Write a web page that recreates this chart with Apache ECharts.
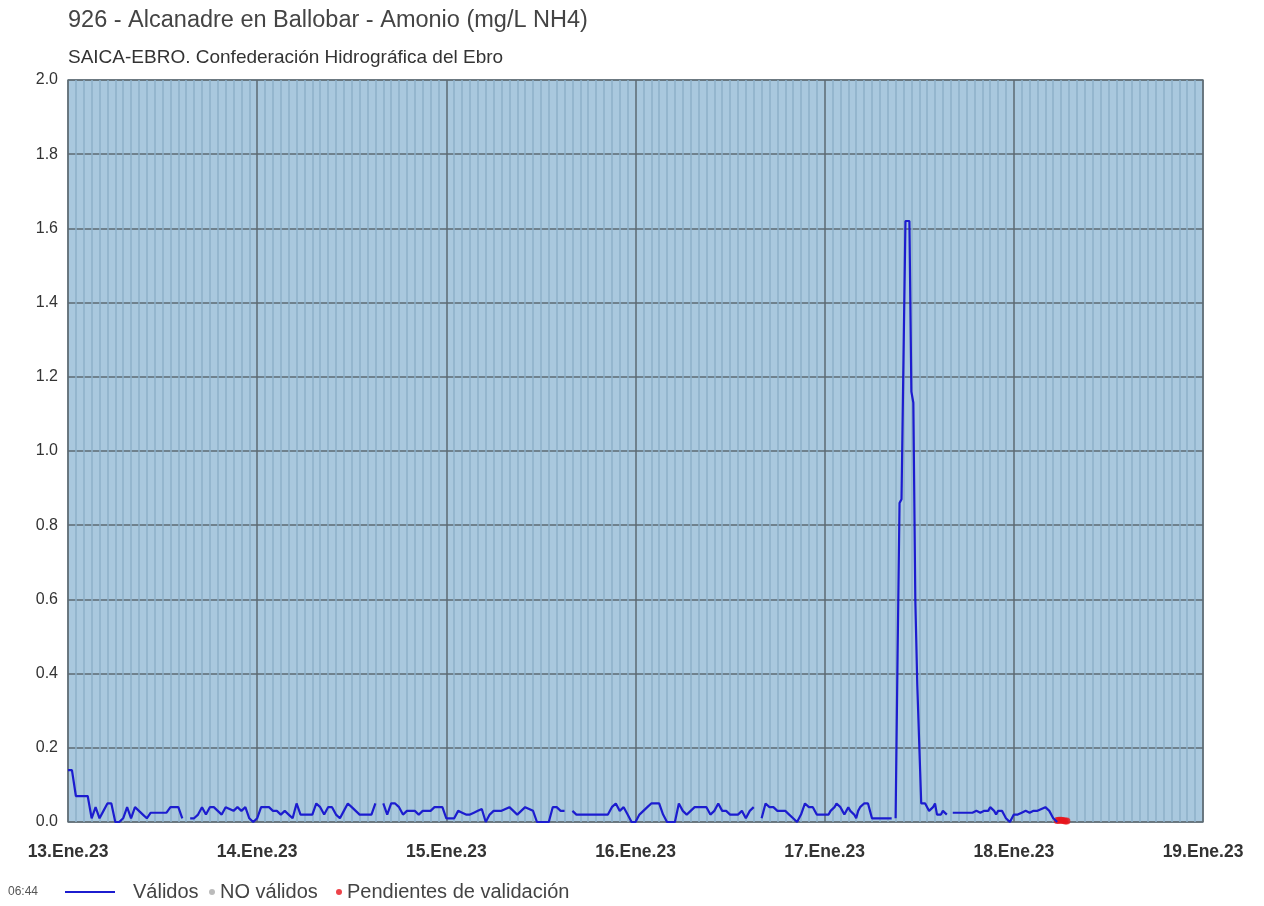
<!DOCTYPE html>
<html>
<head>
<meta charset="utf-8">
<script src="https://cdn.jsdelivr.net/npm/echarts@6/dist/echarts.min.js"></script>
<style>
html,body{margin:0;padding:0;background:#fff;}
#chart{width:1264px;height:906px;}
</style>
</head>
<body>
<div id="chart"></div>
<script>
// ---- DATA ----
const titleText = '926 - Alcanadre en Ballobar - Amonio (mg/L NH4)';
const subtitleText = 'SAICA-EBRO. Confederación Hidrográfica del Ebro';
const lastUpdate = '06:44';
const dayLabels = ['13.Ene.23','14.Ene.23','15.Ene.23','16.Ene.23','17.Ene.23','18.Ene.23','19.Ene.23'];
const yTicks = [0,0.2,0.4,0.6,0.8,1.0,1.2,1.4,1.6,1.8,2.0];

// Válidos, 13 Jan, every 30 min
const valid13 = [0.14,0.14,0.07,0.07,0.07,0.07,0.01,0.04,0.01,0.03,
  0.05,0.05,0.0,0.0,0.01,0.04,0.01,0.04,0.03,0.02,
  0.01,0.025,0.025,0.025,0.025,0.025,0.04,0.04,0.04,0.01,
  null,0.01,0.01,0.02,0.04,0.02,0.04,0.04,0.03,0.02,
  0.04,0.035,0.03,0.04,0.03,0.04,0.01,0.0];
// 14 Jan, every 30 min
const valid14 = [0.01,0.04,0.04,0.04,0.03,0.03,0.02,0.03,0.02,0.01,
  0.05,0.02,0.02,0.02,0.02,0.05,0.04,0.02,0.04,0.04,
  0.02,0.01,0.03,0.05,0.04,0.03,0.02,0.02,0.02,0.02,
  0.05,null,0.05,0.02,0.05,0.05,0.04,0.02,0.03,0.03,
  0.03,0.02,0.03,0.03,0.03,0.04,0.04,0.04];
// 15 Jan, every 30 min
const valid15 = [0.01,0.01,0.01,0.03,0.025,0.02,0.02,0.025,0.03,0.035,
  0.0,0.02,0.03,0.03,0.03,0.035,0.04,0.03,0.02,0.03,
  0.04,0.035,0.03,0.0,0.0,0.0,0.0,0.04,0.04,0.03,
  0.03,null,0.03,0.02,0.02,0.02,0.02,0.02,0.02,0.02,
  0.02,0.02,0.04,0.05,0.03,0.04,0.02,0.0];
// 16 Jan, every 30 min
const valid16 = [0.0,0.02,0.03,0.04,0.05,0.05,0.05,0.02,0.0,0.0,
  0.0,0.05,0.03,0.02,0.03,0.04,0.04,0.04,0.04,0.02,
  0.03,0.05,0.03,0.03,0.02,0.02,0.02,0.03,0.01,0.03,
  0.04,null,0.01,0.05,0.04,0.04,0.03,0.03,0.03,0.02,
  0.01,0.0,0.02,0.05,0.04,0.04,0.02,0.02];
// 17 Jan, every 15 min
const valid17 = [0.02,0.02,0.02,0.03,0.03,0.04,0.05,0.05,0.04,0.03,
  0.02,0.03,0.04,0.03,0.03,0.02,0.01,0.03,0.04,0.045,
  0.05,0.05,0.05,0.03,0.01,0.01,0.01,0.01,0.01,0.01,
  0.01,0.01,0.01,0.01,0.01,null,0.01,0.45,0.86,0.87,
  1.25,1.62,1.62,1.62,1.16,1.13,0.6,0.37,0.37,0.05,
  0.05,0.05,0.04,0.03,0.03,0.04,0.05,0.02,0.02,0.02,
  0.03,0.03,0.02,null,null,0.025,0.025,0.025,0.025,0.025,
  0.025,0.025,0.025,0.025,0.025,0.025,0.03,0.03,0.03,0.025,
  0.025,0.03,0.03,0.03,0.04,0.045,0.03,0.02,0.03,0.035,
  0.03,0.02,0.01,0.005,0.0,0.01];
// 18 Jan, every 30 min (until 05:30)
const valid18 = [0.02,0.02,0.025,0.03,0.025,0.03,0.03,0.035,0.04,0.03,0.01,0.0];

// Pendientes de validación, 18 Jan (hour of day, value)
const pendingHours = [5.5,5.75,6.0,6.25,6.5,6.73];
const pendingValues = [0.004,0.005,0.005,0.004,0.003,0.003];

// NO válidos: none in this period
const invalidData = [];

// ---- BUILD ----
const validDays = [
  {day: 0, step: 0.5, values: valid13},
  {day: 1, step: 0.5, values: valid14},
  {day: 2, step: 0.5, values: valid15},
  {day: 3, step: 0.5, values: valid16},
  {day: 4, step: 0.25, values: valid17},
  {day: 5, step: 0.5, values: valid18}
];
const validData = [];
validDays.forEach(d => d.values.forEach((v, i) => validData.push([d.day * 24 + i * d.step, v])));
const pendingData = pendingHours.map((h, i) => [5 * 24 + h, pendingValues[i]]);

const FONT = '"Liberation Sans", Arial, Helvetica, sans-serif';
const chart = echarts.init(document.getElementById('chart'), null, {renderer: 'canvas'});
chart.setOption({
  animation: false,
  backgroundColor: '#ffffff',
  textStyle: {fontFamily: FONT},
  title: {
    text: titleText,
    subtext: subtitleText,
    left: 68,
    top: 9,
    padding: 0,
    itemGap: 15,
    textStyle: {fontFamily: FONT, fontSize: 23.5, fontWeight: 'normal', color: '#444'},
    subtextStyle: {fontFamily: FONT, fontSize: 19, color: '#333'}
  },
  grid: {
    left: 68, top: 80, right: 61, bottom: 84,
    show: true, backgroundColor: '#a9c8de', borderColor: '#7d8b94', borderWidth: 1.5
  },
  xAxis: {
    type: 'value',
    min: 0, max: 144, interval: 24,
    axisLine: {show: false},
    axisTick: {show: false},
    minorTick: {show: false, splitNumber: 24},
    minorSplitLine: {show: true, lineStyle: {color: '#8db0c9', width: 1.5}},
    splitLine: {show: true, lineStyle: {color: '#5c6a72', width: 1.5}},
    axisLabel: {
      margin: 21, fontSize: 17.5, fontWeight: 'bold', color: '#333', fontFamily: FONT,
      showMaxLabel: true, showMinLabel: true,
      formatter: v => dayLabels[Math.round(v / 24)]
    }
  },
  yAxis: {
    type: 'value',
    min: 0, max: 2, interval: 0.2,
    axisLine: {show: false},
    axisTick: {show: false},
    splitLine: {show: true, lineStyle: {color: '#5c6a72', width: 1.5}},
    axisLabel: {margin: 10, fontSize: 16, color: '#333', fontFamily: FONT, formatter: v => v.toFixed(1)}
  },
  legend: [
    {
      data: [{name: 'Válidos', icon: 'rect'}],
      left: 65, top: 882, padding: 0, itemWidth: 50, itemHeight: 2,
      textStyle: {fontSize: 20, color: '#444', fontFamily: FONT, padding: [0, 0, 0, 13]}
    },
    {
      data: [{name: 'NO válidos', icon: 'circle'}],
      left: 209, top: 882, padding: 0, itemWidth: 6, itemHeight: 6,
      textStyle: {fontSize: 20, color: '#444', fontFamily: FONT}
    },
    {
      data: [{name: 'Pendientes de validación', icon: 'circle'}],
      left: 336, top: 882, padding: 0, itemWidth: 6, itemHeight: 6,
      textStyle: {fontSize: 20, color: '#444', fontFamily: FONT}
    }
  ],
  graphic: [{
    type: 'text', left: 8, top: 886,
    style: {text: lastUpdate, fontSize: 12, fill: '#555', fontFamily: FONT}
  }],
  series: [
    {
      name: 'Válidos', type: 'line', data: validData,
      showSymbol: false, symbol: 'none', connectNulls: false,
      lineStyle: {color: '#1c1ccf', width: 2.2},
      itemStyle: {color: '#1c1ccf'}
    },
    {
      name: 'NO válidos', type: 'scatter', data: invalidData,
      symbolSize: 6, itemStyle: {color: '#aaaaaa'}
    },
    {
      name: 'Pendientes de validación', type: 'scatter', data: pendingData,
      symbolSize: 7, itemStyle: {color: '#e8141b'}
    }
  ]
});
</script>
</body>
</html>
